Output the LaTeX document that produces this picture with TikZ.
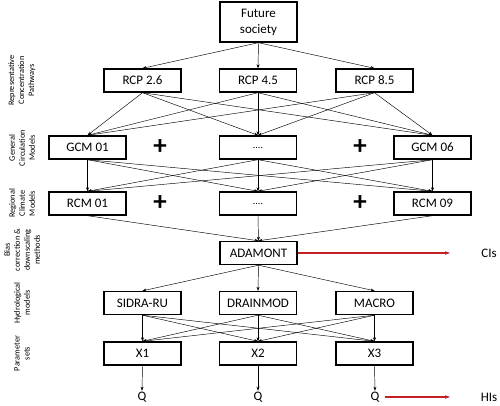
\documentclass[tikz,border=0pt]{standalone}
\usepackage{fontspec}
\setmainfont{Carlito}
\usetikzlibrary{arrows.meta}
\definecolor{cired}{RGB}{192,32,38}
\tikzset{
  box/.style={draw, line width=1.4pt, minimum width=77pt, minimum height=23pt, inner sep=1pt, font=\fontsize{13}{16}\selectfont},
  link/.style={line width=0.45pt, -{Stealth[length=4pt,width=3pt]}},
  redlink/.style={cired, line width=1.1pt, -{Stealth[length=5pt,width=3.5pt]}},
  side/.style={rotate=90, align=center, font=\fontsize{8.3}{10}\selectfont},
  plus/.style={font=\fontsize{27}{27}\selectfont\bfseries},
  endtext/.style={font=\fontsize{13}{16}\selectfont, inner sep=1pt}
}
\begin{document}
\begin{tikzpicture}[x=1pt,y=-1pt]
            \useasboundingbox (0,0) rectangle (500,406);
            \node [side] (l1) at (22,80.5) {Representative\\Concentration\\Pathways};
            \node [side] (l2) at (22,148) {General\\Circulation\\Models};
            \node [side] (l3) at (22,203.5) {Regional\\Climate\\Models};
            \node [side] (l4) at (22,250) {Bias\\correction \&\\downscaling\\methods};
            \node [side] (l5) at (22,303) {Hydrological\\models};
            \node [side] (l6) at (22,353.5) {Parameter\\sets};
            \node [box, minimum height=40pt, align=center] (fut) at (258.5,22) {Future\\society};
            \node [box] (rcp1) at (142.5,80.5) {RCP 2.6};
            \node [box] (rcp2) at (258,80.5) {RCP 4.5};
            \node [box] (rcp3) at (374.5,80.5) {RCP 8.5};
            \node [box] (gcm1) at (87.5,147.5) {GCM 01};
            \node [box] (gcm2) at (258,147.5) {\fontsize{10}{10}\selectfont ....};
            \node [box] (gcm3) at (432.5,147.5) {GCM 06};
            \node [box] (rcm1) at (87.5,203.5) {RCM 01};
            \node [box] (rcm2) at (258,203.5) {\fontsize{10}{10}\selectfont ....};
            \node [box] (rcm3) at (432.5,203.5) {RCM 09};
            \node [plus] (p1) at (160,147.5) {+};
            \node [plus] (p2) at (360,147.5) {+};
            \node [plus] (p3) at (160,203.5) {+};
            \node [plus] (p4) at (360,203.5) {+};
            \node [box] (ada) at (258.5,253) {ADAMONT};
            \node [box] (hyd1) at (142.5,303) {SIDRA-RU};
            \node [box] (hyd2) at (258,303) {DRAINMOD};
            \node [box] (hyd3) at (374.5,303) {MACRO};
            \node [box] (par1) at (142.5,353.5) {X1};
            \node [box] (par2) at (258,353.5) {X2};
            \node [box] (par3) at (374.5,353.5) {X3};
            \node [endtext] (q1) at (142,397) {Q};
            \node [endtext] (q2) at (258,397) {Q};
            \node [endtext] (q3) at (375,397) {Q};
            \node [endtext] (cis) at (489,253) {CIs};
            \node [endtext] (his) at (489,397) {HIs};
            \coordinate (ciend) at (450,253);
            \coordinate (hiend) at (450,397);
            \foreach \i in {1,2,3} {
                \draw [link] (fut.south) -- (rcp\i.north);
                \draw [link] (rcm\i.south) -- (ada.north);
                \draw [link] (ada.south) -- (hyd\i.north);
                \draw [link] (par\i.south) -- (q\i.north);
                \foreach \j in {1,2,3} {
                    \draw [link] (rcp\i.south) -- (gcm\j.north);
                    \draw [link] (gcm\i.south) -- (rcm\j.north);
                    \draw [link] (hyd\i.south) -- (par\j.north);
                }
            }
            \draw [redlink] (ada.east) -- (ciend);
            \draw [redlink] ([xshift=4pt]q3.east) -- (hiend);
        \end{tikzpicture}
\end{document}
